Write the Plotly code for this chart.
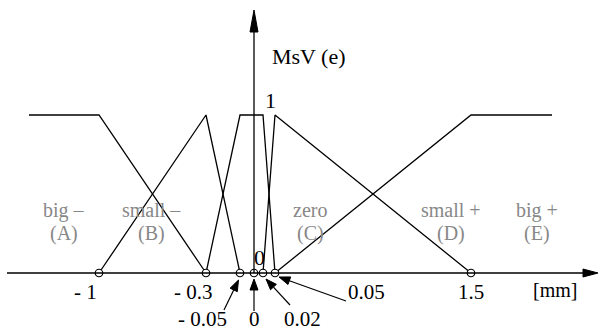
import numpy as np
import plotly.graph_objects as go

# ---------------- data ----------------
tick_values = [-1, -0.3, -0.05, 0, 0.02, 0.05, 1.5]
tick_labels = ["- 1", "- 0.3", "- 0.05", "0", "0.02", "0.05", "1.5"]
x_left, x_right = -1.4, 1.9          # ends of the drawn universe of discourse

big_minus_x = [x_left, -1, -0.3]
big_minus_y = [1, 1, 0]
small_minus_x = [-1, -0.3, -0.05]
small_minus_y = [0, 1, 0]
zero_x = [-0.3, -0.05, 0.02, 0.05]
zero_y = [0, 1, 1, 0]
small_plus_x = [0.02, 0.05, 1.5]
small_plus_y = [0, 1, 0]
big_plus_x = [0.05, 1.5, x_right]
big_plus_y = [0, 1, 1]

set_names = ["big –", "small –", "zero", "small +", "big +"]
set_codes = ["(A)", "(B)", "(C)", "(D)", "(E)"]

# ---------------- non-linear (not to scale) axis ----------------
scale_domain = [x_left, -1, -0.3, -0.05, 0, 0.02, 0.05, 1.5, x_right]
scale_range = [29, 99, 206, 240, 254, 263, 275, 471, 552]


def sx(v):
    return np.interp(v, scale_domain, scale_range)


W, H = 600, 333
Y0_PX, Y1_PX = 273, 115          # pixel rows of membership 0 and 1
k = Y0_PX - Y1_PX
y_lo = -(H - Y0_PX) / k
y_hi = Y0_PX / k


def py(p):                        # pixel row -> y value
    return (Y0_PX - p) / k


FONT = "Times New Roman, Liberation Serif, serif"
fig = go.Figure()

for xs, ys in [(big_minus_x, big_minus_y), (small_minus_x, small_minus_y),
               (zero_x, zero_y), (small_plus_x, small_plus_y),
               (big_plus_x, big_plus_y)]:
    fig.add_trace(go.Scatter(x=sx(xs), y=ys, mode="lines",
                             line=dict(color="black", width=1.3),
                             hoverinfo="skip", showlegend=False))

shapes = []
# x axis line + arrow head
shapes.append(dict(type="line", xref="x", yref="y", x0=7, x1=590, y0=0, y1=0,
                   line=dict(color="black", width=1.3)))
shapes.append(dict(type="path", xref="x", yref="y",
                   path=f"M 583 {py(269)} L 598 {py(273)} L 583 {py(277)} Z",
                   fillcolor="black", line=dict(color="black", width=1)))
# y axis line + arrow head
ax_x = sx(0)
shapes.append(dict(type="line", xref="x", yref="y", x0=ax_x, x1=ax_x,
                   y0=0, y1=py(20), line=dict(color="black", width=1.3)))
shapes.append(dict(type="path", xref="x", yref="y",
                   path=f"M {ax_x-4} {py(32)} L {ax_x} {py(10)} L {ax_x+4} {py(32)} Z",
                   fillcolor="black", line=dict(color="black", width=1)))


def arrow(tx, ty, hx, hy, L=11, w=4):
    d = np.array([hx - tx, hy - ty], float)
    d /= np.hypot(*d)
    n = np.array([-d[1], d[0]])
    bx, by = hx - d[0] * L, hy - d[1] * L
    shapes.append(dict(type="line", xref="x", yref="y", x0=tx, y0=py(ty),
                       x1=bx, y1=py(by), line=dict(color="black", width=1.2)))
    p1 = (bx + n[0] * w, by + n[1] * w)
    p2 = (bx - n[0] * w, by - n[1] * w)
    shapes.append(dict(type="path", xref="x", yref="y",
                       path=f"M {p1[0]} {py(p1[1])} L {hx} {py(hy)} L {p2[0]} {py(p2[1])} Z",
                       fillcolor="black", line=dict(color="black", width=1)))


arrow(224, 310, 238.5, 280)
arrow(254, 311, 254, 279)
arrow(290, 305, 266, 279)
arrow(346, 301, 279, 277)

# breakpoint circles
fig.add_trace(go.Scatter(x=sx(tick_values), y=[0] * len(tick_values), mode="markers",
                         marker=dict(size=7.5, color="white",
                                     line=dict(color="black", width=1.2)),
                         hoverinfo="skip", showlegend=False))

ann = []
# tick labels: (x pixel centre, y pixel position, anchor)
label_pos = {"- 1": (85, 292, "middle"), "- 0.3": (193, 292, "middle"),
             "- 0.05": (202, 333, "bottom"), "0": (254, 333, "bottom"),
             "0.02": (302, 333, "bottom"), "0.05": (366, 292, "middle"),
             "1.5": (471, 292, "middle")}
for t in tick_labels:
    xp, yp, anc = label_pos[t]
    ann.append(dict(x=xp, y=py(yp), xref="x", yref="y", text=t, showarrow=False,
                    yanchor=anc, font=dict(family=FONT, size=21, color="black")))
ann.append(dict(x=555, y=py(290), xref="x", yref="y", text="[mm]", showarrow=False,
                font=dict(family=FONT, size=20, color="black")))
ann.append(dict(x=309, y=py(56), xref="x", yref="y", text="MsV (e)", showarrow=False,
                font=dict(family=FONT, size=22, color="black")))
ann.append(dict(x=270, y=py(100), xref="x", yref="y", text="1", showarrow=False,
                font=dict(family=FONT, size=22, color="black")))
ann.append(dict(x=259, y=py(257), xref="x", yref="y", text="0", showarrow=False,
                font=dict(family=FONT, size=22, color="black")))

name_x = [64, 151, 310, 451, 537]
for nm, cd, xp in zip(set_names, set_codes, name_x):
    ann.append(dict(x=xp, y=py(210), xref="x", yref="y", text=nm,
                    showarrow=False, font=dict(family=FONT, size=20, color="#888888")))
    ann.append(dict(x=xp, y=py(233), xref="x", yref="y", text=cd,
                    showarrow=False, font=dict(family=FONT, size=20, color="#888888")))

fig.update_layout(
    width=W, height=H, margin=dict(l=0, r=0, t=0, b=0),
    paper_bgcolor="white", plot_bgcolor="white",
    xaxis=dict(range=[0, W], visible=False, fixedrange=True),
    yaxis=dict(range=[y_lo, y_hi], visible=False, fixedrange=True),
    shapes=shapes, annotations=ann, showlegend=False,
)
fig.write_html("out.html")
